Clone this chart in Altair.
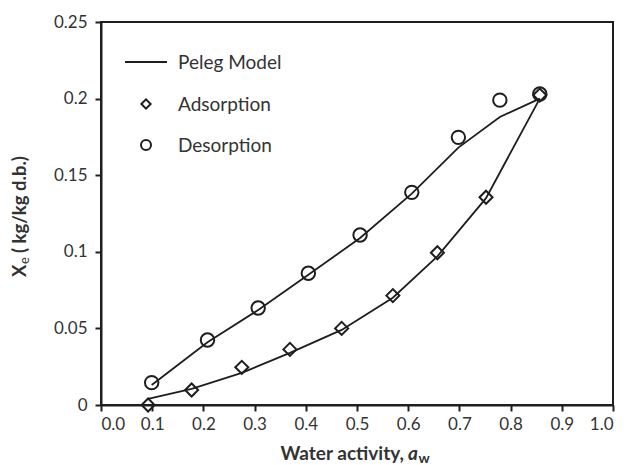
import altair as alt
import pandas as pd

# Adsorption data (diamonds) and Peleg model fit
aw_ads = [0.092, 0.177, 0.275, 0.369, 0.470, 0.570, 0.657, 0.752, 0.857]
xe_ads = [0.000, 0.0098, 0.0246, 0.0363, 0.050, 0.0714, 0.0994, 0.1356, 0.2023]
model_ads = [0.004, 0.0105, 0.021, 0.034, 0.049, 0.070, 0.097, 0.135, 0.200]

# Desorption data (circles) and Peleg model fit
aw_des = [0.099, 0.208, 0.307, 0.405, 0.506, 0.607, 0.698, 0.779, 0.857]
xe_des = [0.0146, 0.0424, 0.0633, 0.086, 0.111, 0.1388, 0.1747, 0.199, 0.203]
model_des = [0.013, 0.041, 0.062, 0.085, 0.109, 0.138, 0.168, 0.188, 0.200]

x_ticks = [round(i * 0.1, 1) for i in range(11)]
y_ticks = [0, 0.05, 0.1, 0.15, 0.2, 0.25]

legend_labels = ["Peleg Model", "Adsorption", "Desorption"]

FONT = "Lato"
INK = "#1e1e1e"
TXT = "#333333"

df_ads = pd.DataFrame({"aw": aw_ads, "xe": xe_ads, "model": model_ads, "series": "Adsorption"})
df_des = pd.DataFrame({"aw": aw_des, "xe": xe_des, "model": model_des, "series": "Desorption"})
df_all = pd.concat([df_ads, df_des], ignore_index=True)

xs = alt.Scale(domain=[0, 1], nice=False)
ys = alt.Scale(domain=[0, 0.25], nice=False)

xaxis = alt.Axis(values=x_ticks, format=".1f", title=None, grid=False)
yaxis = alt.Axis(values=y_ticks, format=".2~f", title=None, grid=False)

lines = alt.Chart(df_all).mark_line(color=INK, strokeWidth=1.8).encode(
    x=alt.X("aw:Q", scale=xs, axis=xaxis),
    y=alt.Y("model:Q", scale=ys, axis=yaxis),
    detail="series:N",
    order="aw:Q",
)

ads_pts = alt.Chart(df_ads).mark_point(
    shape="diamond", filled=False, color=INK, strokeWidth=2, size=170, opacity=1
).encode(x=alt.X("aw:Q", scale=xs), y=alt.Y("xe:Q", scale=ys))

des_pts = alt.Chart(df_des).mark_point(
    shape="circle", filled=False, color=INK, strokeWidth=2, size=180, opacity=1
).encode(x=alt.X("aw:Q", scale=xs), y=alt.Y("xe:Q", scale=ys))

one = pd.DataFrame({"k": [0]})

def txt(s, x, y, size=17, weight="normal", style="normal", align="left",
        baseline="alphabetic", angle=0):
    return alt.Chart(one).mark_text(
        text=s, font=FONT, fontSize=size, fontWeight=weight, fontStyle=style,
        align=align, baseline=baseline, angle=angle, color=TXT
    ).encode(x=alt.value(x), y=alt.value(y))

# Legend inside plot
leg_line = alt.Chart(one).mark_rule(color=INK, strokeWidth=1.8).encode(
    x=alt.value(24), x2=alt.value(66), y=alt.value(40)
)
leg_dia = alt.Chart(one).mark_point(
    shape="diamond", filled=False, color=INK, strokeWidth=2, size=85, opacity=1
).encode(x=alt.value(45), y=alt.value(82))
leg_cir = alt.Chart(one).mark_point(
    shape="circle", filled=False, color=INK, strokeWidth=2, size=100, opacity=1
).encode(x=alt.value(45), y=alt.value(123))
leg_t = [
    txt(legend_labels[0], 77, 41, size=19, baseline="middle"),
    txt(legend_labels[1], 77, 83, size=19, baseline="middle"),
    txt(legend_labels[2], 77, 124, size=19, baseline="middle"),
]

# Axis titles with sub/italic parts
TS = 19
xt1 = txt("Water activity,", 303, 438, size=TS, weight="bold", align="right")
xt2 = txt("a", 307, 438, size=TS, weight="bold", style="italic")
xt3 = txt("w", 317.5, 441, size=14, weight="bold")

yt1 = txt("X", -75, 255, size=18.5, weight="bold", angle=270)
yt2 = txt("e", -72, 242, size=13, angle=270)
yt3 = txt("( kg/kg d.b.)", -75, 231, size=18.5, weight="bold", angle=270)

chart = alt.layer(
    lines, ads_pts, des_pts, leg_line, leg_dia, leg_cir, *leg_t,
    xt1, xt2, xt3, yt1, yt2, yt3
).properties(
    width=512, height=383,
    autosize=alt.AutoSizeParams(type="none"),
    padding={"left": 93, "top": 14, "right": 2, "bottom": 60},
).configure_view(
    stroke=INK, strokeWidth=2
).configure_axis(
    domainColor=INK, domainWidth=2, tickColor=INK, tickWidth=2, tickSize=6,
    labelFont=FONT, labelFontSize=17, labelColor=TXT,
).configure_axisX(
    labelPadding=5
).configure_axisY(
    labelPadding=8
)

chart.save("out.html", embed_options={"renderer": "svg", "actions": False})
